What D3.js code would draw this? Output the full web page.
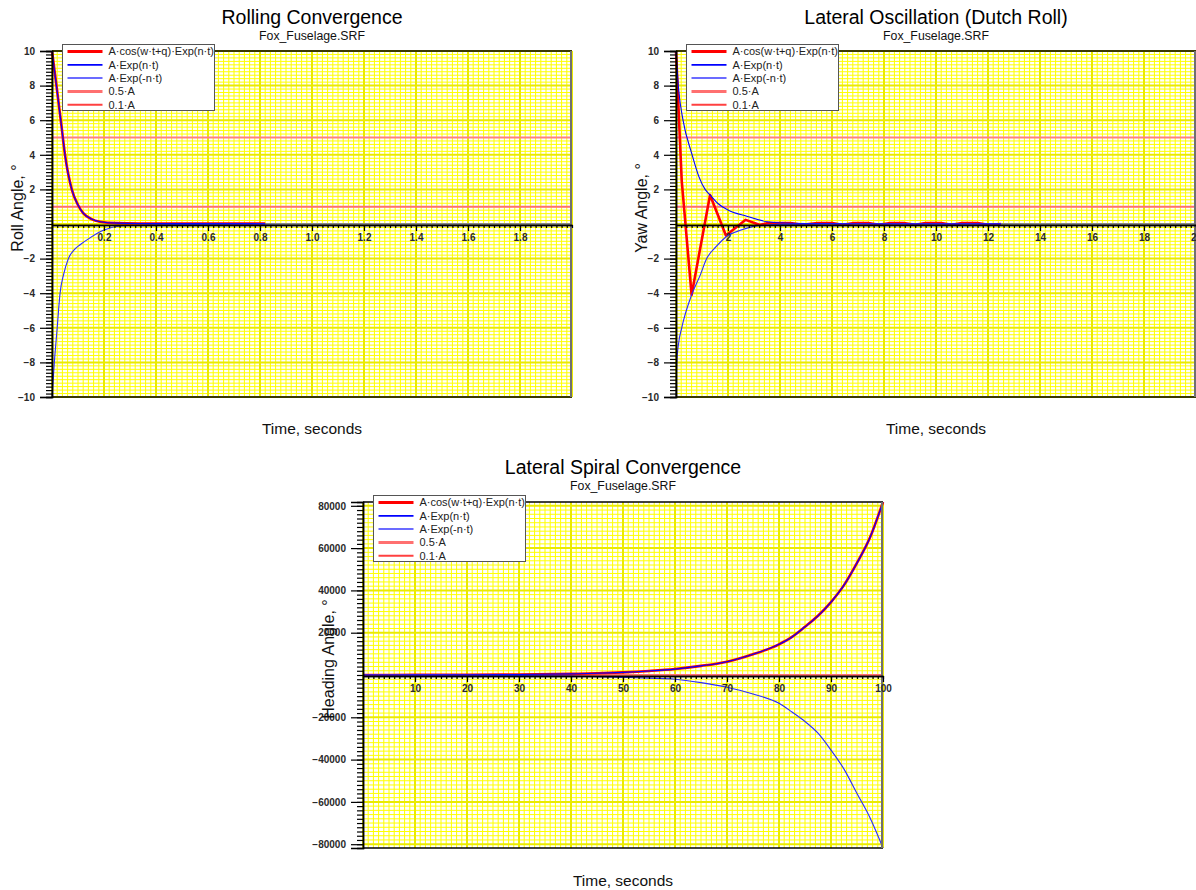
<!DOCTYPE html>
<html><head><meta charset="utf-8">
<script src="https://cdn.jsdelivr.net/npm/d3@7"></script>
<style>
body{margin:0;background:#fff}
svg{display:block}
text{font-family:"Liberation Sans",Arial,Helvetica,sans-serif}
</style>
</head><body>
<svg id="c" width="1196" height="890"></svg>
<script>
// ---------------- DATA ----------------
const fileName = "Fox_Fuselage.SRF";
const legendLabels = ["A·cos(w·t+q)·Exp(n·t)", "A·Exp(n·t)", "A·Exp(-n·t)", "0.5·A", "0.1·A"];
const xAxisTitle = "Time, seconds";

// Chart 1: Rolling Convergence
const rollTitle = "Rolling Convergence";
const rollYTitle = "Roll Angle, °";
const rollXTicks = [0.2, 0.4, 0.6, 0.8, 1.0, 1.2, 1.4, 1.6, 1.8];
const rollYTicks = [10, 8, 6, 4, 2, -2, -4, -6, -8, -10];
const rollTime = [0, 0.018, 0.037, 0.05, 0.076, 0.1, 0.12, 0.15, 0.185, 0.25, 0.35, 0.5, 0.65, 0.82];
const rollResponse = [10, 7.9, 5.6, 4.0, 2.0, 1.1, 0.63, 0.3, 0.13, 0.05, 0.03, 0.02, 0.02, 0.02];
const rollUpper = [10, 7.9, 5.6, 4.0, 2.0, 1.1, 0.63, 0.3, 0.13, 0.05, 0.03, 0.02, 0.02, 0.02];
const rollLowerTime = [0, 0.009, 0.02, 0.031, 0.045, 0.063, 0.085, 0.108, 0.146, 0.2, 0.27, 0.4, 0.6, 0.8, 1.0, 1.5, 2.0];
const rollLower = [-10, -8, -6, -4, -2.9, -2, -1.5, -1.2, -0.8, -0.35, -0.1, -0.04, -0.02, -0.01, 0, 0, 0];
const rollLevels = [5, 1];

// Chart 2: Lateral Oscillation (Dutch Roll)
const dutchTitle = "Lateral Oscillation (Dutch Roll)";
const dutchYTitle = "Yaw Angle, °";
const dutchXTicks = [2, 4, 6, 8, 10, 12, 14, 16, 18, 20];
const dutchYTicks = [10, 8, 6, 4, 2, -2, -4, -6, -8, -10];
const dutchTime = [0, 0.22, 0.6, 1.31, 1.92, 2.68, 3.23, 3.5, 4.4, 4.85, 5.45, 6.0, 6.4, 6.85, 7.4, 7.8, 8.25, 8.75, 9.2, 9.6, 10.2, 10.6, 11.0, 11.6, 12.0, 12.5];
const dutchResponse = [10, 2.5, -4.1, 1.68, -0.66, 0.24, -0.06, 0.05, 0.05, -0.05, 0.05, 0.05, -0.05, 0.05, 0.05, -0.05, 0.05, 0.05, -0.05, 0.05, 0.05, -0.05, 0.05, 0.05, -0.05, 0];
const dutchUpperTime = [0, 0.1, 0.27, 0.6, 0.88, 1.12, 1.31, 1.6, 2.0, 2.72, 3.5, 4.0, 5.0, 6.0, 8.0, 10.0, 12.5];
const dutchUpper = [10, 7.8, 6, 4.1, 2.74, 2.0, 1.68, 1.2, 0.81, 0.45, 0.13, 0.07, 0.03, 0.02, 0.01, 0.01, 0.01];
const dutchLowerTime = [0, 0.03, 0.1, 0.22, 0.6, 0.92, 1.18, 1.55, 1.92, 2.5, 2.95, 3.5, 4.0, 6.0, 10.0, 20.0];
const dutchLower = [-10, -8, -6.9, -6, -4.1, -3.0, -2.0, -1.3, -0.75, -0.35, -0.15, -0.06, -0.02, 0, 0, 0];
const dutchLevels = [5, 1];

// Chart 3: Lateral Spiral Convergence
const spiralTitle = "Lateral Spiral Convergence";
const spiralYTitle = "Heading Angle, °";
const spiralXTicks = [10, 20, 30, 40, 50, 60, 70, 80, 90, 100];
const spiralYTicks = [80000, 60000, 40000, 20000, -20000, -40000, -60000, -80000];
const spiralTime = [0, 10, 20, 30, 40, 45, 50, 55, 60, 65, 70, 75, 80, 82.5, 85, 87.5, 90, 92.5, 95, 97.5, 100];
const spiralResponse = [20, 45, 100, 230, 530, 800, 1250, 1900, 2800, 4300, 6300, 9800, 14500, 18000, 22800, 28000, 34500, 42500, 53000, 65000, 81800];
const spiralUpper = [20, 45, 100, 230, 530, 800, 1250, 1900, 2800, 4300, 6300, 9800, 14500, 18000, 22800, 28000, 34500, 42500, 53000, 65000, 81800];
const spiralLower = [-20, -45, -100, -230, -500, -750, -1100, -1500, -2000, -3600, -5800, -9000, -13400, -17500, -22000, -27500, -35500, -44500, -56000, -67500, -81800];
const spiralLevels = [10, 2];

// ---------------- LAYOUT / STYLE ----------------
const charts = [
  { title: rollTitle, ytitle: rollYTitle, box: {x0: 52, x1: 572, y0: 51, y1: 397},
    xDom: [0, 2], yMax: d3.max(rollUpper), xMaj: 0.2, yMaj: 2, xTicks: rollXTicks, yTicks: rollYTicks,
    xFmt: d3.format(".1f"), yFmt: d3.format("d"), respCurve: d3.curveMonotoneX,
    resp: [rollTime, rollResponse], up: [rollTime, rollUpper], low: [rollLowerTime, rollLower], levels: rollLevels,
    titleY: 24, subY: 40, xtY: 434 },
  { title: dutchTitle, ytitle: dutchYTitle, box: {x0: 676, x1: 1196, y0: 51, y1: 397},
    xDom: [0, 20], yMax: d3.max(dutchUpper), xMaj: 2, yMaj: 2, xTicks: dutchXTicks, yTicks: dutchYTicks,
    xFmt: d3.format("d"), yFmt: d3.format("d"), respCurve: d3.curveLinear,
    resp: [dutchTime, dutchResponse], up: [dutchUpperTime, dutchUpper], low: [dutchLowerTime, dutchLower], levels: dutchLevels,
    titleY: 24, subY: 40, xtY: 434 },
  { title: spiralTitle, ytitle: spiralYTitle, box: {x0: 363, x1: 883, y0: 502, y1: 848},
    xDom: [0, 100], yMax: d3.max(spiralUpper), xMaj: 10, yMaj: 20000, xTicks: spiralXTicks, yTicks: spiralYTicks,
    xFmt: d3.format("d"), yFmt: d3.format("d"), respCurve: d3.curveMonotoneX,
    resp: [spiralTime, spiralResponse], up: [spiralTime, spiralUpper], low: [spiralTime, spiralLower], levels: spiralLevels,
    titleY: 474, subY: 490, xtY: 886 }
];

const legendStyles = [
  {c: "#ff0000", w: 3}, {c: "#0000ff", w: 1.8}, {c: "#3a3aff", w: 1.5}, {c: "#ff7070", w: 3}, {c: "#ff4040", w: 2}
];

const svg = d3.select("#c");

charts.forEach((ch) => {
  const b = ch.box;
  const x = d3.scaleLinear().domain(ch.xDom).range([b.x0, b.x1]);
  const y = d3.scaleLinear().domain([-ch.yMax, ch.yMax]).range([b.y1, b.y0]);
  const g = svg.append("g");
  const cx = (b.x0 + b.x1) / 2, cy = (b.y0 + b.y1) / 2;

  g.append("rect").attr("x", b.x0).attr("y", b.y0).attr("width", b.x1 - b.x0).attr("height", b.y1 - b.y0).attr("fill", "#ffffff");

  // grid
  const xMin = ch.xMaj / 10, yMin = ch.yMaj / 10;
  const nx = Math.round((ch.xDom[1] - ch.xDom[0]) / xMin);
  const xs = d3.range(0, nx + 1).map(i => ({v: ch.xDom[0] + i * xMin, major: i % 10 === 0}));
  const yStart = Math.ceil(-ch.yMax / ch.yMaj - 1e-9) * ch.yMaj;
  const ny = Math.round((-yStart * 2) / yMin);
  const ys = d3.range(0, ny + 1).map(i => ({v: yStart + i * yMin, major: i % 10 === 0}));
  const grid = g.append("g");
  grid.selectAll("line.gx").data(xs.filter(d => !d.major)).join("line")
    .attr("x1", d => x(d.v)).attr("x2", d => x(d.v)).attr("y1", b.y0).attr("y2", b.y1)
    .attr("stroke", "#ffff00").attr("stroke-width", 1);
  grid.selectAll("line.gy").data(ys.filter(d => !d.major)).join("line")
    .attr("y1", d => y(d.v)).attr("y2", d => y(d.v)).attr("x1", b.x0).attr("x2", b.x1)
    .attr("stroke", "#ffff00").attr("stroke-width", 1);
  grid.selectAll("line.gxm").data(xs.filter(d => d.major)).join("line")
    .attr("x1", d => x(d.v)).attr("x2", d => x(d.v)).attr("y1", b.y0).attr("y2", b.y1)
    .attr("stroke", "#eaea00").attr("stroke-width", 2);
  grid.selectAll("line.gym").data(ys.filter(d => d.major)).join("line")
    .attr("y1", d => y(d.v)).attr("y2", d => y(d.v)).attr("x1", b.x0).attr("x2", b.x1)
    .attr("stroke", "#eaea00").attr("stroke-width", 2);

  // reference levels
  ch.levels.forEach((lv, i) => {
    g.append("line").attr("x1", b.x0).attr("x2", b.x1).attr("y1", y(lv)).attr("y2", y(lv))
      .attr("stroke", i === 0 ? "#ff8080" : "#ff7070").attr("stroke-width", 2);
  });

  const zip = (a) => a[0].map((t, i) => [t, a[1][i]]);
  const lineR = d3.line().x(d => x(d[0])).y(d => y(d[1])).curve(ch.respCurve);
  const lineS = d3.line().x(d => x(d[0])).y(d => y(d[1])).curve(d3.curveMonotoneX);
  g.append("path").attr("d", lineR(zip(ch.resp))).attr("fill", "none").attr("stroke", "#ff0000").attr("stroke-width", 2.6).attr("stroke-linejoin", "round");
  g.append("path").attr("d", lineS(zip(ch.up))).attr("fill", "none").attr("stroke", "#0000ff").attr("stroke-width", 1.1);
  g.append("path").attr("d", lineS(zip(ch.low))).attr("fill", "none").attr("stroke", "#2a2aff").attr("stroke-width", 1.1);

  // borders
  g.append("line").attr("x1", b.x0).attr("x2", b.x1).attr("y1", b.y0).attr("y2", b.y0).attr("stroke", "#000").attr("stroke-width", 1.5);
  g.append("line").attr("x1", b.x0).attr("x2", b.x1).attr("y1", b.y1).attr("y2", b.y1).attr("stroke", "#000").attr("stroke-width", 1.5);
  g.append("line").attr("x1", b.x1 - 1).attr("x2", b.x1 - 1).attr("y1", b.y0).attr("y2", b.y1).attr("stroke", "#707070").attr("stroke-width", 2);

  // y axis
  const ya = g.append("g").attr("transform", `translate(${b.x0},0)`);
  ya.call(d3.axisLeft(y).tickValues(ys.map(d => d.v)).tickSize(6).tickFormat(""));
  const yb = g.append("g").attr("transform", `translate(${b.x0},0)`);
  yb.call(d3.axisLeft(y).tickValues(ch.yTicks).tickSize(12).tickPadding(5).tickFormat(ch.yFmt));
  [ya, yb].forEach(s => { s.select(".domain").attr("stroke", "#000").attr("stroke-width", 1.5); s.selectAll(".tick line").attr("stroke", "#000").attr("stroke-width", 1.2); });
  yb.selectAll(".tick text").attr("font-size", 10).attr("font-weight", "bold").attr("fill", "#2a2a2a").attr("font-family", "Liberation Sans, Arial, sans-serif");

  // x axis at zero
  const x0y = y(0) + 1;
  const xa = g.append("g").attr("transform", `translate(0,${x0y})`);
  xa.call(d3.axisBottom(x).tickValues(xs.map(d => d.v)).tickSize(3).tickSizeOuter(0).tickFormat(""));
  const xb = g.append("g").attr("transform", `translate(0,${x0y})`);
  xb.call(d3.axisBottom(x).tickValues(ch.xTicks).tickSize(6).tickSizeOuter(0).tickPadding(3).tickFormat(ch.xFmt));
  [xa, xb].forEach(s => { s.select(".domain").attr("stroke", "#000").attr("stroke-width", 1.5); s.selectAll(".tick line").attr("stroke", "#000").attr("stroke-width", 1.2); });
  xb.selectAll(".tick text").attr("font-size", 10).attr("font-weight", "bold").attr("fill", "#2a2a2a").attr("font-family", "Liberation Sans, Arial, sans-serif");

  // titles
  svg.append("text").attr("x", cx).attr("y", ch.titleY).attr("text-anchor", "middle").attr("font-size", 19.5).attr("fill", "#000").text(ch.title);
  svg.append("text").attr("x", cx).attr("y", ch.subY).attr("text-anchor", "middle").attr("font-size", 12.3).attr("fill", "#111").text(fileName);
  svg.append("text").attr("x", cx).attr("y", ch.xtY).attr("text-anchor", "middle").attr("font-size", 15.5).attr("fill", "#111").text(xAxisTitle);
  svg.append("text").attr("transform", `translate(${b.x0 - 29},${cy - 16}) rotate(-90)`).attr("text-anchor", "middle")
    .attr("font-size", 16).attr("fill", "#111").text(ch.ytitle);

  // legend
  const lx = b.x0 + 10.5, ly = b.y0 - 6.5;
  const lg = svg.append("g").attr("transform", `translate(${lx},${ly})`);
  lg.append("rect").attr("width", 152).attr("height", 66).attr("fill", "#fff").attr("stroke", "#555").attr("stroke-width", 1);
  legendLabels.forEach((lab, i) => {
    const yy = 7 + i * 13.3;
    lg.append("line").attr("x1", 5).attr("x2", 40).attr("y1", yy).attr("y2", yy)
      .attr("stroke", legendStyles[i].c).attr("stroke-width", legendStyles[i].w);
    lg.append("text").attr("x", 46).attr("y", yy).attr("dy", "0.35em").attr("font-size", 11).attr("fill", "#222").text(lab);
  });
});
</script>
</body></html>
